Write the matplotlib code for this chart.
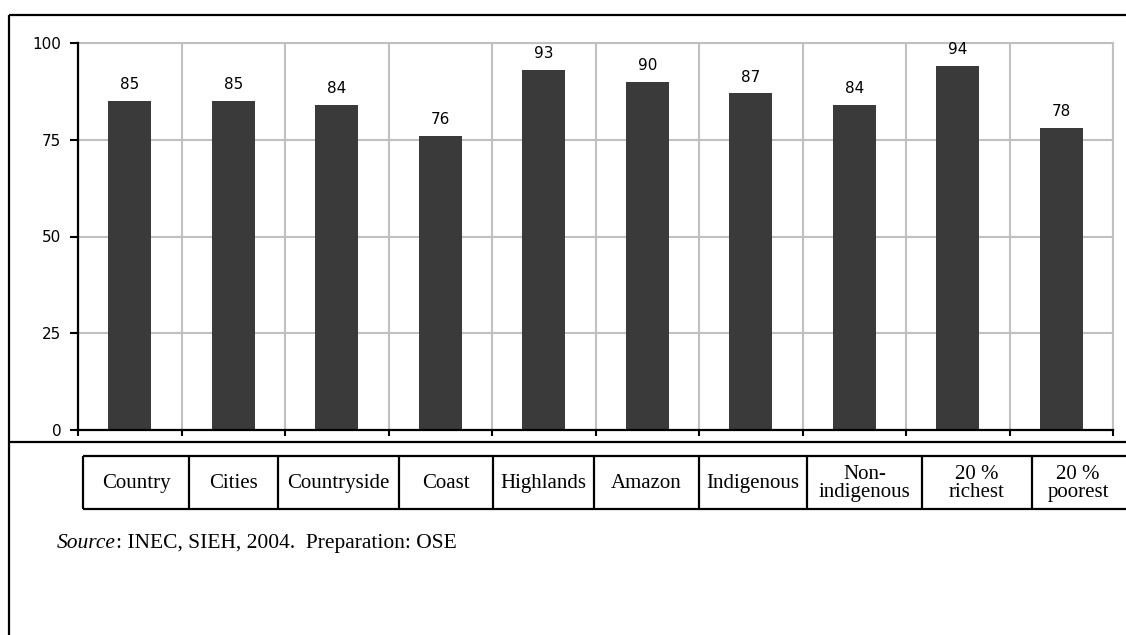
import numpy as np
import matplotlib
matplotlib.use('Agg')
from matplotlib import pyplot as plt

# data
categories = ['Country', 'Cities', 'Countryside', 'Coast', 'Highlands', 'Amazon',
              'Indigenous', 'Non-\nindigenous', '20 %\nrichest', '20 %\npoorest']
values = [85, 85, 84, 76, 93, 90, 87, 84, 94, 78]
yticks = [0, 25, 50, 75, 100]

W, H = 1126, 635
fig = plt.figure(figsize=(W / 100, H / 100), dpi=100)

# chart area in pixels
left, right, top, bottom = 78, 1113, 43, 430
ax = fig.add_axes([left / W, 1 - bottom / H, (right - left) / W, (bottom - top) / H])

x = np.arange(len(values))
ax.bar(x, values, width=0.42, color='#3a3a3a', zorder=3)
ax.set_xlim(-0.5, len(values) - 0.5)
ax.set_ylim(0, 100)

ax.set_yticks(yticks)
ax.set_yticklabels([str(t) for t in yticks], family='DejaVu Sans', fontsize=11)
ax.set_xticks(np.arange(-0.5, len(values), 1))
ax.set_xticklabels([])
ax.tick_params(axis='y', direction='out', length=6, width=1.5, pad=6)
ax.tick_params(axis='x', direction='out', length=4, width=1.5)

ax.grid(True, color='#c0c0c0', linewidth=1.5, zorder=0)
ax.set_axisbelow(True)
for s in ['left', 'bottom']:
    ax.spines[s].set_linewidth(1.6)
    ax.spines[s].set_color('black')
    ax.spines[s].set_zorder(4)
for s in ['right', 'top']:
    ax.spines[s].set_linewidth(1.5)
    ax.spines[s].set_color('#c0c0c0')

for i, v in enumerate(values):
    ax.annotate(str(v), (i, v), xytext=(0, 8.5), textcoords='offset points',
                ha='center', va='baseline', fontsize=11, family='DejaVu Sans')

# overlay for frame, table and source note (pixel coordinates)
ov = fig.add_axes([0, 0, 1, 1], zorder=-1)
ov.set_xlim(0, W)
ov.set_ylim(H, 0)
ov.axis('off')

lw = 1.6
ov.plot([9, W], [15, 15], color='black', lw=lw, solid_capstyle='butt')
ov.plot([9, 9], [15, H], color='black', lw=lw, solid_capstyle='butt')
ov.plot([9, W], [442, 442], color='black', lw=lw, solid_capstyle='butt')

edges = [83, 189, 278, 399, 493, 594, 699, 807, 922, 1032, 1124]
t_top, t_bot = 456, 509
ov.plot([edges[0], W], [t_top, t_top], color='black', lw=lw, solid_capstyle='butt')
ov.plot([edges[0], W], [t_bot, t_bot], color='black', lw=lw, solid_capstyle='butt')
for e in edges[:-1]:
    ov.plot([e, e], [t_top, t_bot], color='black', lw=lw, solid_capstyle='butt')
for i, lab in enumerate(categories):
    ov.text((edges[i] + edges[i + 1]) / 2, (t_top + t_bot) / 2 + 1, lab,
            ha='center', va='center', family='Liberation Serif', fontsize=15,
            linespacing=0.95)

src = ov.text(57, 548, 'Source', family='Liberation Serif', style='italic',
              fontsize=15.5, ha='left', va='baseline')
ov.annotate(': INEC, SIEH, 2004.  Preparation: OSE', xy=(1, 0), xycoords=src,
            ha='left', va='bottom', family='Liberation Serif', fontsize=15.5)

fig.savefig('out.png', dpi=100, facecolor='white')
